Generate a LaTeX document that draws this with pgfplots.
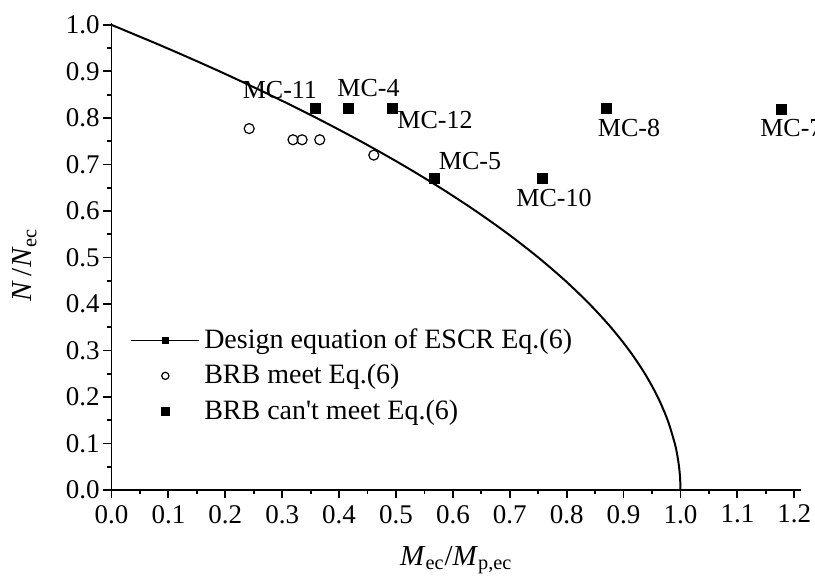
\documentclass[border=0pt]{standalone}
\usepackage{pgfplots}
\pgfplotsset{compat=1.18}
\usepackage{fontspec}
\setmainfont{Liberation Serif}[Ligatures=TeXOff]
\begin{document}
\begin{tikzpicture}
\begin{axis}[
  scale only axis,
  width=344.8pt, height=233.5pt,
  xmin=0, xmax=1.212, ymin=0, ymax=1.004,
  axis x line*=bottom, axis y line*=left,
  axis line style={line width=0.9pt},
  xtick={0,0.1,...,1.2}, ytick={0,0.1,...,1.0},
  minor tick num=1,
  tick align=outside,
  major tick length=4pt, minor tick length=2pt,
  tick style={line width=0.9pt, black},
  ticklabel style={font=\fontsize{13.5}{15}\selectfont,
    /pgf/number format/fixed, /pgf/number format/fixed zerofill,
    /pgf/number format/precision=1, /pgf/number format/assume math mode=true},
  yticklabel style={inner xsep=1.75pt},
  xlabel={\textit{M}\textsubscript{ec}/\textit{M}\textsubscript{p,ec}},
  ylabel={\textit{N}\,/\textit{N}\textsubscript{ec}},
  label style={font=\fontsize{14.5}{16}\selectfont},
  xlabel style={at={(axis description cs:0.5,-0.1606)}, anchor=base},
  ylabel style={at={(axis description cs:-0.1153,0.482)}, anchor=base},
  clip=false,
  legend style={at={(axis cs:0.0325,0.347)}, anchor=north west, draw=none, fill=none,
    font=\fontsize{14}{16}\selectfont, row sep=0pt, inner sep=0pt,
    nodes={inner ysep=0pt, inner xsep=2pt, text height=9.5pt, text depth=8.25pt}},
  legend cell align=left,
]
\coordinate (bl) at (rel axis cs:0,0);
\addplot[black, line width=1pt, smooth,
  legend image code/.code={\draw[black, line width=0.8pt] (0cm,3.2pt) -- (1.2cm,3.2pt);
    \fill[black] (0.6cm-1.2pt,2pt) rectangle (0.6cm+1.2pt,4.4pt);}]
  table[x=x, y=y] {
x y
1 0
0.999375 0.025
0.9975 0.05
0.994375 0.075
0.99 0.1
0.9775 0.15
0.96 0.2
0.9375 0.25
0.91 0.3
0.8775 0.35
0.84 0.4
0.7975 0.45
0.75 0.5
0.6975 0.55
0.64 0.6
0.5775 0.65
0.51 0.7
0.4375 0.75
0.36 0.8
0.2775 0.85
0.19 0.9
0.0975 0.95
0 1
};
\addlegendentry{Design equation of ESCR Eq.(6)}
\addplot[only marks, mark=o, mark size=2.5pt, mark options={black, line width=0.6pt},
  legend image code/.code={\draw[black, line width=0.6pt] (0.6cm,3.2pt) circle (1.8pt);}]
  table[x=x, y=y] {
x y
0.242 0.777
0.319 0.753
0.335 0.753
0.366 0.753
0.461 0.720
};
\addlegendentry{BRB meet Eq.(6)}
\addplot[only marks, mark=square*, mark size=2.5pt, mark options={black},
  legend image code/.code={\fill[black] (0.6cm-1.8pt,1.4pt) rectangle (0.6cm+1.8pt,5pt);}]
  table[x=x, y=y] {
x y
0.358 0.821
0.417 0.821
0.493 0.821
0.568 0.670
0.757 0.670
0.869 0.821
1.178 0.818
};
\addlegendentry{BRB can't meet Eq.(6)}
\begin{scope}[every node/.style={font=\fontsize{13}{15}\selectfont, inner sep=0pt, anchor=base}]
\node at (axis cs:0.296,0.8415) {MC-11};
\node at (axis cs:0.4517,0.8458) {MC-4};
\node at (axis cs:0.5685,0.7773) {MC-12};
\node at (axis cs:0.630,0.6895) {MC-5};
\node at (axis cs:0.7777,0.6103) {MC-10};
\node at (axis cs:0.9095,0.760) {MC-8};
\node[anchor=base west] at (axis cs:1.1397,0.760) {MC-7};
\end{scope}
\end{axis}
\pgfresetboundingbox
\useasboundingbox ([shift={(-55.75pt,-47.5pt)}]bl) rectangle ([shift={(351.75pt,245pt)}]bl);
\end{tikzpicture}
\end{document}
